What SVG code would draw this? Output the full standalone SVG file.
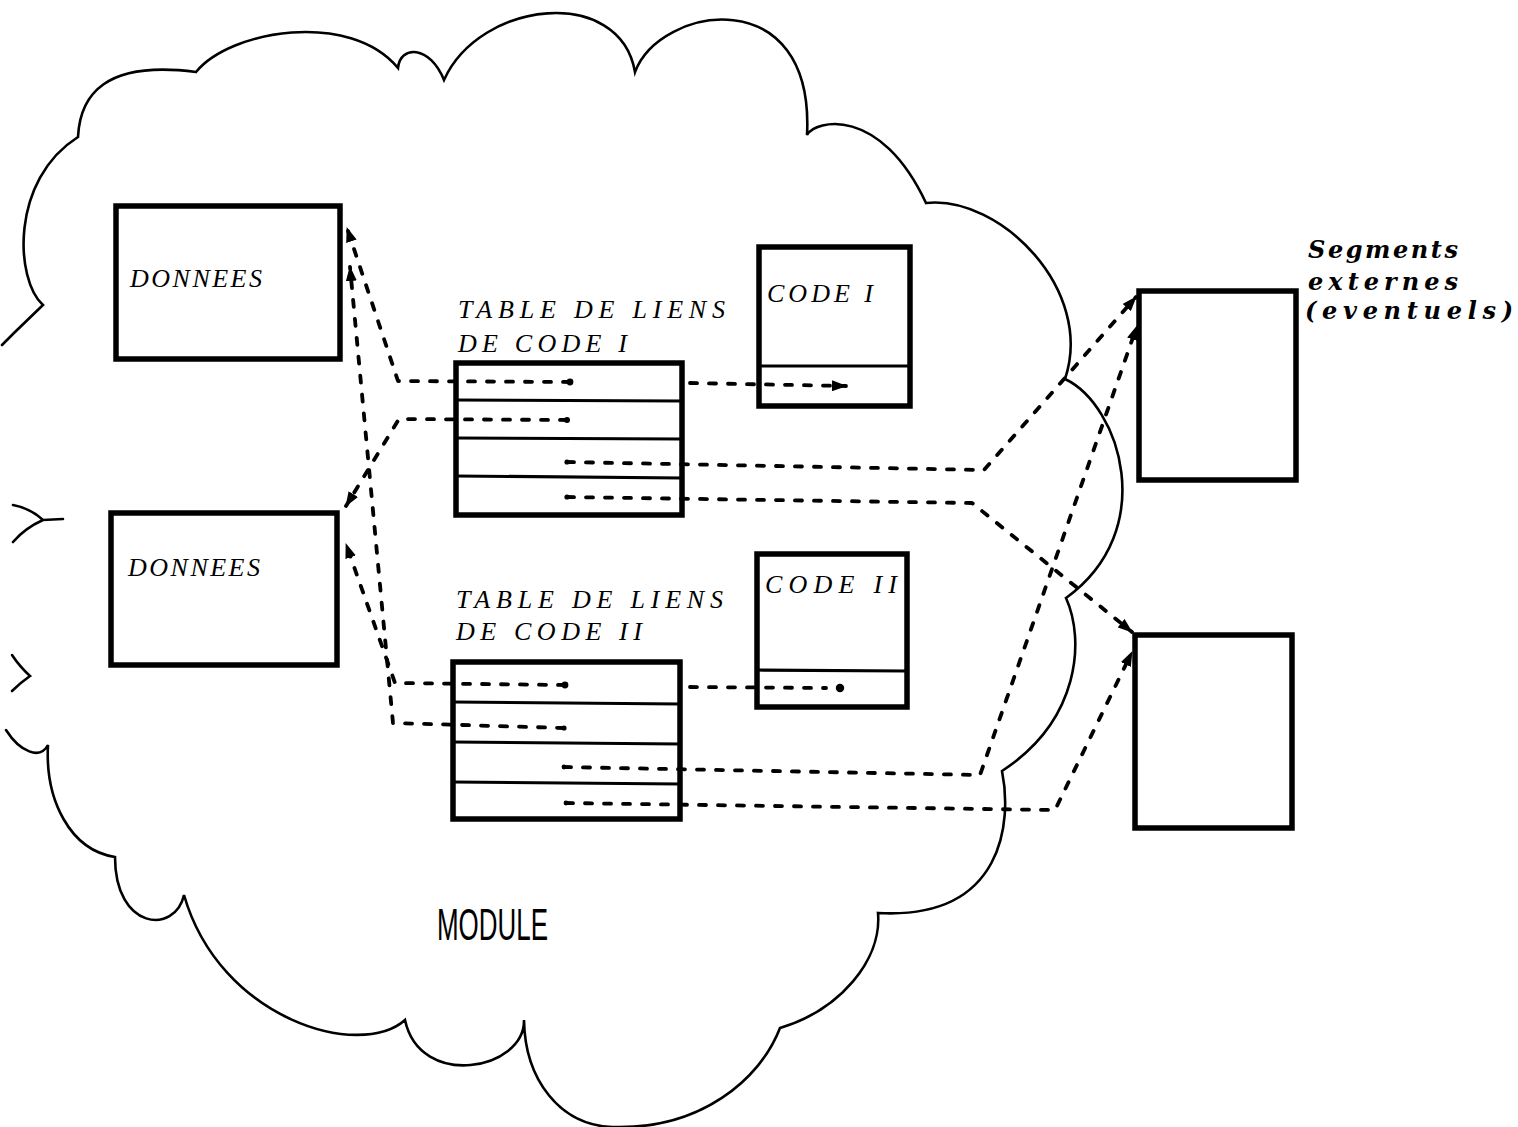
<svg xmlns="http://www.w3.org/2000/svg" width="1518" height="1127" viewBox="0 0 1518 1127">
<style>
.bg{fill:#fff}
.cloud{fill:none;stroke:#000;stroke-width:2.6;stroke-linejoin:miter;stroke-linecap:round}
.box{fill:none;stroke:#000;stroke-width:5.5}
.row{stroke:#000;stroke-width:3.2;fill:none}
.lbl{font-family:"Liberation Serif",serif;font-style:italic;font-size:26px;fill:#000}
.ext{font-family:"DejaVu Serif",serif;font-style:italic;font-weight:bold;font-size:24px;fill:#000}
.mod{font-family:"Liberation Sans",sans-serif;font-size:44px;fill:#000}
.dash{fill:none;stroke:#000;stroke-width:3.8;stroke-dasharray:7 12;stroke-linecap:round;stroke-linejoin:round}
.dot{fill:#000}
</style>
<defs>
<marker id="ah" viewBox="0 0 15 11" refX="14" refY="5.5" markerWidth="15" markerHeight="11" markerUnits="userSpaceOnUse" orient="auto">
<path d="M0,0 L15,5.5 L0,11 z" fill="#000"/>
</marker>
</defs>
<rect class="bg" x="0" y="0" width="1518" height="1127"/>

<g id="cloud">
<path class="cloud" d="M 2,345 L 15,332 L 43,305 C 15,280 10,180 78,137 C 80,95 105,60 196,72 C 230,30 350,10 398,68 C 400,45 430,45 444,80 C 480,0 620,-15 635,72 C 660,5 815,-20 807,135 C 815,120 880,105 926,203 C 1000,195 1095,290 1065,379 C 1120,405 1160,530 1066,598 C 1085,640 1080,720 1002,771 C 1012,820 1005,920 878,913 C 882,960 840,1010 780,1028 C 760,1080 700,1130 612,1127 C 560,1125 525,1080 524,1020 C 525,1070 420,1090 405,1020 C 360,1060 220,1020 184,895 C 175,935 115,930 115,857 C 70,850 45,800 48,745 C 40,760 20,752 6,730"/>
<path class="cloud" d="M 12,655 Q 20,667 30,676 Q 20,683 12,691"/>
<path class="cloud" d="M 13,505 Q 30,508 43,520 L 63,519 M 43,520 Q 25,528 13,542"/>
</g>

<g id="connectors">
<polyline class="dash" points="570,382 398,381 347,228" marker-end="url(#ah)"/>
<polyline class="dash" points="567,420 399,419 346,506" marker-end="url(#ah)"/>
<polyline class="dash" points="567,462 984,470 1136,297" marker-end="url(#ah)"/>
<polyline class="dash" points="567,497 972,503 1132,632" marker-end="url(#ah)"/>
<polyline class="dash" points="690,383 846,386" marker-end="url(#ah)"/>
<polyline class="dash" points="565,685 395,683 346,544" marker-end="url(#ah)"/>
<polyline class="dash" points="564,728 393,723 350,267" marker-end="url(#ah)"/>
<polyline class="dash" points="564,767 980,775 1137,326" marker-end="url(#ah)"/>
<polyline class="dash" points="566,803 1055,810 1132,652" marker-end="url(#ah)"/>
<polyline class="dash" points="690,687 826,688"/>
<circle class="dot" cx="570" cy="382" r="3.4"/>
<circle class="dot" cx="567" cy="420" r="3"/>
<circle class="dot" cx="567" cy="462" r="2.6"/>
<circle class="dot" cx="567" cy="497" r="2.6"/>
<circle class="dot" cx="565" cy="685" r="3.4"/>
<circle class="dot" cx="564" cy="728" r="2.6"/>
<circle class="dot" cx="564" cy="767" r="2.4"/>
<circle class="dot" cx="566" cy="803" r="2.4"/>
<circle class="dot" cx="840" cy="688" r="4.2"/>
</g>

<g id="donnees1">
<rect class="box" x="116" y="206" width="224" height="153"/>
<text class="lbl" x="130" y="287" textLength="132" lengthAdjust="spacing">DONNEES</text>
</g>

<g id="donnees2">
<rect class="box" x="111" y="513" width="226" height="152"/>
<text class="lbl" x="128" y="576" textLength="132" lengthAdjust="spacing">DONNEES</text>
</g>

<g id="table1">
<text class="lbl" x="458" y="318" textLength="267" lengthAdjust="spacing">TABLE DE LIENS</text>
<text class="lbl" x="458" y="352" textLength="169" lengthAdjust="spacing">DE CODE I</text>
<rect class="box" x="456" y="363" width="226" height="152"/>
<line class="row" x1="456" y1="400" x2="682" y2="401"/>
<line class="row" x1="456" y1="438" x2="682" y2="439"/>
<line class="row" x1="456" y1="476" x2="682" y2="478"/>
</g>

<g id="code1">
<rect class="box" x="759" y="247" width="151" height="159"/>
<line class="row" x1="759" y1="366" x2="910" y2="366"/>
<text class="lbl" x="767" y="302" textLength="106" lengthAdjust="spacing">CODE I</text>
</g>

<g id="table2">
<text class="lbl" x="456" y="608" textLength="267" lengthAdjust="spacing">TABLE DE LIENS</text>
<text class="lbl" x="456" y="640" textLength="186" lengthAdjust="spacing">DE CODE II</text>
<rect class="box" x="453" y="662" width="227" height="157"/>
<line class="row" x1="453" y1="702" x2="680" y2="704"/>
<line class="row" x1="453" y1="742" x2="680" y2="744"/>
<line class="row" x1="453" y1="782" x2="680" y2="784"/>
</g>

<g id="code2">
<rect class="box" x="757" y="554" width="150" height="153"/>
<line class="row" x1="757" y1="670" x2="907" y2="671"/>
<text class="lbl" x="765" y="593" textLength="132" lengthAdjust="spacing">CODE II</text>
</g>

<g id="ext1">
<rect class="box" x="1139" y="291" width="157" height="189"/>
</g>

<g id="ext2">
<rect class="box" x="1135" y="635" width="157" height="193"/>
</g>

<g id="ext-label">
<text class="ext" x="1308" y="258" textLength="150" lengthAdjust="spacing">Segments</text>
<text class="ext" x="1308" y="290" textLength="150" lengthAdjust="spacing">externes</text>
<text class="ext" x="1305" y="319" textLength="208" lengthAdjust="spacing">(eventuels)</text>
</g>

<g id="module-label">
<text class="mod" x="437" y="940" textLength="111" lengthAdjust="spacingAndGlyphs">MODULE</text>
</g>
</svg>
